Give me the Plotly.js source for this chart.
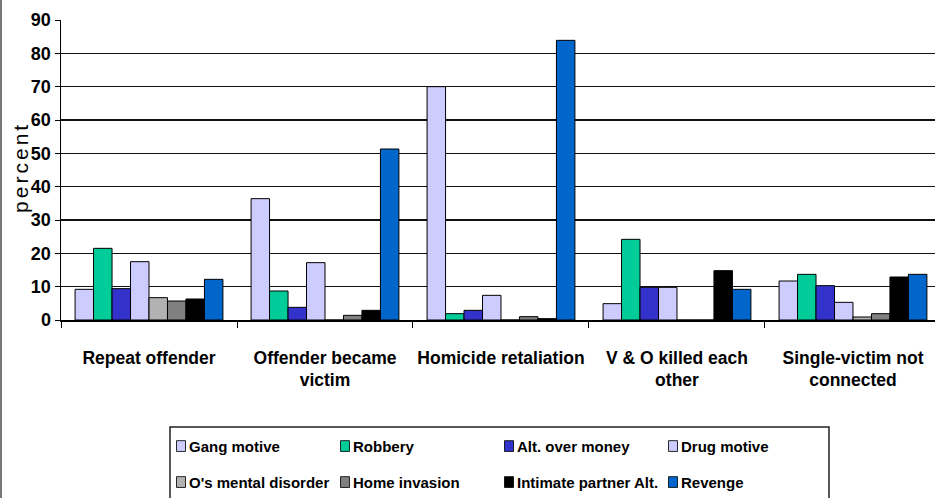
<!DOCTYPE html>
<html>
<head>
<meta charset="utf-8">
<script src="https://cdn.plot.ly/plotly-3.0.1.min.js"></script>
<style>
  html, body { margin: 0; padding: 0; background: #fff; }
  #chart { width: 935px; height: 498px; }
  .annotation-text { letter-spacing: 3px; }
  .legendpoints path { transform: translate(32px, 0px) scale(0.75, 0.9); }
</style>
</head>
<body>
<div id="chart"></div>
<script>
// ---- data ----
const categories = ['Repeat offender', 'Offender became victim', 'Homicide retaliation', 'V & O killed each other', 'Single-victim not connected'];
const tickLabels = ['Repeat offender', 'Offender became<br>victim', 'Homicide retaliation', 'V & O killed each<br>other', 'Single-victim not<br>connected'];
const seriesNames = ['Gang motive', 'Robbery', 'Alt. over money', 'Drug motive', "O's mental disorder", 'Home invasion', 'Intimate partner Alt.', 'Revenge'];
const gangMotive   = [9.2, 36.4, 70.0, 4.9, 11.7];
const robbery      = [21.5, 8.7, 1.9, 24.2, 13.7];
const altOverMoney = [9.4, 3.8, 2.9, 9.8, 10.3];
const drugMotive   = [17.5, 17.2, 7.4, 9.8, 5.3];
const mentalDisord = [6.7, 0, 0, 0, 0.9];
const homeInvasion = [5.7, 1.4, 1.0, 0, 1.9];
const intimatePart = [6.3, 2.9, 0.4, 14.8, 12.9];
const revenge      = [12.2, 51.3, 83.9, 9.2, 13.7];
const yTicks = [0, 10, 20, 30, 40, 50, 60, 70, 80, 90];
const yTitle = 'percent';

// ---- styles ----
const seriesValues = [gangMotive, robbery, altOverMoney, drugMotive, mentalDisord, homeInvasion, intimatePart, revenge];
const colors = ['#CCCCFF', '#00CC99', '#3333CC', '#CCCCFF', '#B2B2B2', '#808080', '#000000', '#0066CC'];
const FONT = '"Liberation Sans", Arial, sans-serif';

const traces = seriesNames.map((name, i) => ({
  type: 'bar',
  name: name,
  x: categories,
  y: seriesValues[i],
  marker: { color: colors[i], line: { color: '#000', width: 1 } },
  legend: i < 4 ? 'legend' : 'legend2',
  hoverinfo: 'x+y+name'
}));

const legendCommon = {
  orientation: 'h',
  xref: 'paper', yref: 'paper',
  xanchor: 'left', yanchor: 'middle',
  entrywidth: 119, entrywidthmode: 'pixels',
  bgcolor: 'rgba(0,0,0,0)', borderwidth: 0,
  font: { family: FONT, size: 15, color: '#000', weight: 'bold' },
  traceorder: 'normal'
};

const layout = {
  width: 935, height: 498,
  margin: { l: 61, r: 0, t: 20, b: 178, autoexpand: false },
  paper_bgcolor: '#fff', plot_bgcolor: '#fff',
  font: { family: FONT, color: '#000' },
  barmode: 'group',
  bargap: 0.16,
  bargroupgap: 0,
  showlegend: true,
  xaxis: {
    type: 'category',
    range: [-0.5, 4.466],
    tickvals: categories,
    ticktext: tickLabels,
    tickangle: 0,
    tickson: 'boundaries',
    ticks: 'outside', ticklen: 6, tickwidth: 1, tickcolor: '#000',
    showline: true, linecolor: '#000', linewidth: 1.5,
    showgrid: false,
    ticklabelstandoff: 21,
    tickfont: { family: FONT, size: 17.5, color: '#000', weight: 'bold' }
  },
  yaxis: {
    range: [0, 90],
    tickvals: yTicks,
    ticks: 'outside', ticklen: 5, tickwidth: 1, tickcolor: '#000',
    showline: true, linecolor: '#000', linewidth: 1.5,
    showgrid: true, gridcolor: '#111', gridwidth: 1.5,
    zeroline: false,
    tickfont: { family: FONT, size: 18, color: '#000', weight: 'bold' }
  },
  legend: Object.assign({}, legendCommon, { x: (149 - 61) / 874, y: -0.421 }),
  legend2: Object.assign({}, legendCommon, { x: (149 - 61) / 874, y: -0.541 }),
  annotations: [
    { xref: 'paper', yref: 'paper', x: (21 - 61) / 874, y: 0.507, text: yTitle, textangle: -90,
      showarrow: false, xanchor: 'center', yanchor: 'middle',
      font: { family: FONT, size: 21, color: '#000' } }
  ],
  shapes: [
    { type: 'rect', xref: 'paper', yref: 'paper', x0: (170 - 61) / 874, x1: (829 - 61) / 874, y0: -0.62, y1: (320 - 427) / 300,
      line: { color: '#222', width: 1.5 }, fillcolor: 'rgba(0,0,0,0)', layer: 'below' },
    { type: 'line', xref: 'paper', yref: 'paper', x0: (1 - 61) / 874, x1: (1 - 61) / 874, y0: -0.62, y1: 1.1,
      line: { color: '#777', width: 2 } }
  ]
};

Plotly.newPlot('chart', traces, layout, { displayModeBar: false, staticPlot: true });
</script>
</body>
</html>
